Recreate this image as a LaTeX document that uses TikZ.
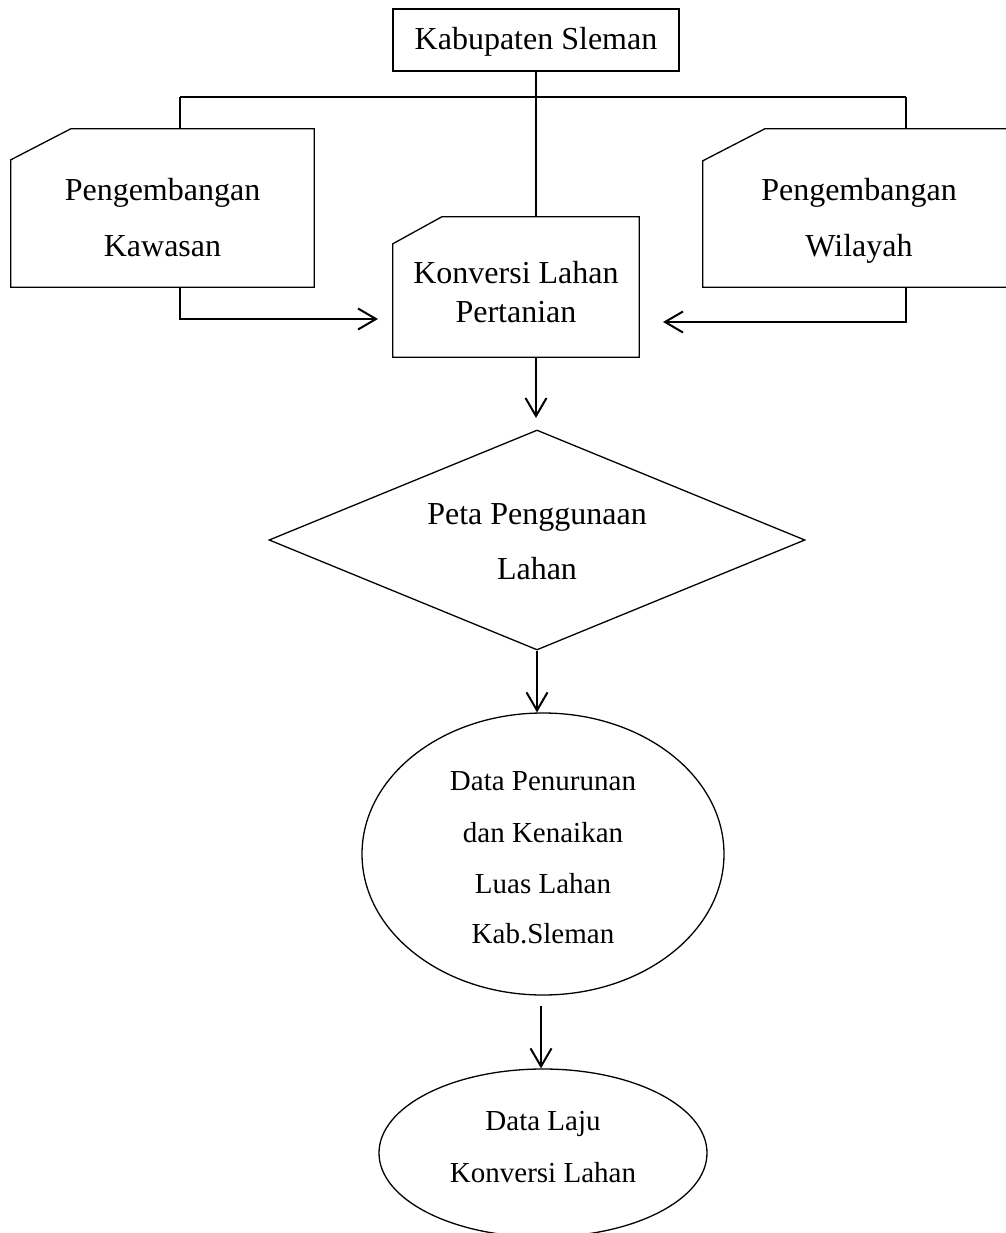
\documentclass[tikz,border=0pt]{standalone}
\usepackage{fontspec}
\setmainfont{Liberation Serif}
\usetikzlibrary{shapes.geometric,arrows.meta}
\begin{document}
\begin{tikzpicture}[x=1pt,y=-1pt,
  boxline/.style={line width=1.3pt},
  card/.style={rectangle,inner sep=0pt},
  conn/.style={line width=1.3pt},
  arr/.style={line width=2pt,-{Straight Barb[length=18pt,width=21pt,line width=2pt]}},
  bigtxt/.style={font=\fontsize{32}{38}\selectfont,anchor=base,inner sep=0pt},
  smalltxt/.style={font=\fontsize{29}{35}\selectfont,anchor=base,inner sep=0pt}]
\useasboundingbox (0,0) rectangle (1005,1233);

% top box
\node[draw,boxline,rectangle,inner sep=0pt,minimum width=286pt,minimum height=62pt] (kab) at (536,40) {};
\node[bigtxt] (kabt) at (536,50) {Kabupaten Sleman};

% cards
\node[card,minimum width=303pt,minimum height=158pt] (kaw) at (162.5,208) {};
\node[card,minimum width=312pt,minimum height=158pt] (wil) at (859,208) {};
\node[card,minimum width=246pt,minimum height=140pt] (konv) at (516,287) {};
\draw[boxline] ([yshift=-31pt]kaw.north west) -- ([xshift=60pt]kaw.north west) -- (kaw.north east) -- (kaw.south east) -- (kaw.south west) -- cycle;
\draw[boxline] ([yshift=-32pt]wil.north west) -- ([xshift=62pt]wil.north west) -- (wil.north east) -- (wil.south east) -- (wil.south west) -- cycle;
\draw[boxline] ([yshift=-27pt]konv.north west) -- ([xshift=49pt]konv.north west) -- (konv.north east) -- (konv.south east) -- (konv.south west) -- cycle;

\node[bigtxt] (kawt1) at (162.5,201) {Pengembangan};
\node[bigtxt] (kawt2) at (162.5,256) {Kawasan};
\node[bigtxt] (wilt1) at (859,201) {Pengembangan};
\node[bigtxt] (wilt2) at (859,256) {Wilayah};
\node[bigtxt] (konvt1) at (516,283) {Konversi Lahan};
\node[bigtxt] (konvt2) at (516,322) {Pertanian};

% diamond
\node[draw,boxline,diamond,inner sep=0pt,minimum width=536pt,minimum height=220pt] (peta) at (537,540) {};
\node[bigtxt] (petat1) at (537,524) {Peta Penggunaan};
\node[bigtxt] (petat2) at (537,579) {Lahan};

% ellipses
\node[draw,boxline,ellipse,inner sep=0pt,minimum width=362pt,minimum height=282pt] (dat) at (543,854) {};
\node[smalltxt] (datt1) at (543,790) {Data Penurunan};
\node[smalltxt] (datt2) at (543,842) {dan Kenaikan};
\node[smalltxt] (datt3) at (543,893) {Luas Lahan};
\node[smalltxt] (datt4) at (543,943) {Kab.Sleman};

\node[draw,boxline,ellipse,inner sep=0pt,minimum width=328pt,minimum height=168pt] (laju) at (543,1153) {};
\node[smalltxt] (lajut1) at (543,1130) {Data Laju};
\node[smalltxt] (lajut2) at (543,1182) {Konversi Lahan};

% tree lines
\coordinate (tl) at (180,97);
\coordinate (tr) at (906,97);
\draw[conn] (kab.south) -- (kab.south |- konv.north);
\draw[conn] (tl) -- (tr);
\draw[conn] (tl) -- (tl |- kaw.north);
\draw[conn] (tr) -- (tr |- wil.north);

% side arrows
\coordinate (tipL) at (378,319);
\coordinate (tipR) at (663,322);
\draw[arr] (tl |- kaw.south) |- (tipL);
\draw[arr] (tr |- wil.south) |- (tipR);

% down arrows
\coordinate (tipD1) at (536,418);
\draw[arr] (kab.south |- konv.south) -- (tipD1);
\draw[arr] (peta.south) -- (peta.south |- dat.north);
\coordinate (startD3) at (541,1006);
\draw[arr] (startD3) -- (startD3 |- laju.north);
\end{tikzpicture}
\end{document}
